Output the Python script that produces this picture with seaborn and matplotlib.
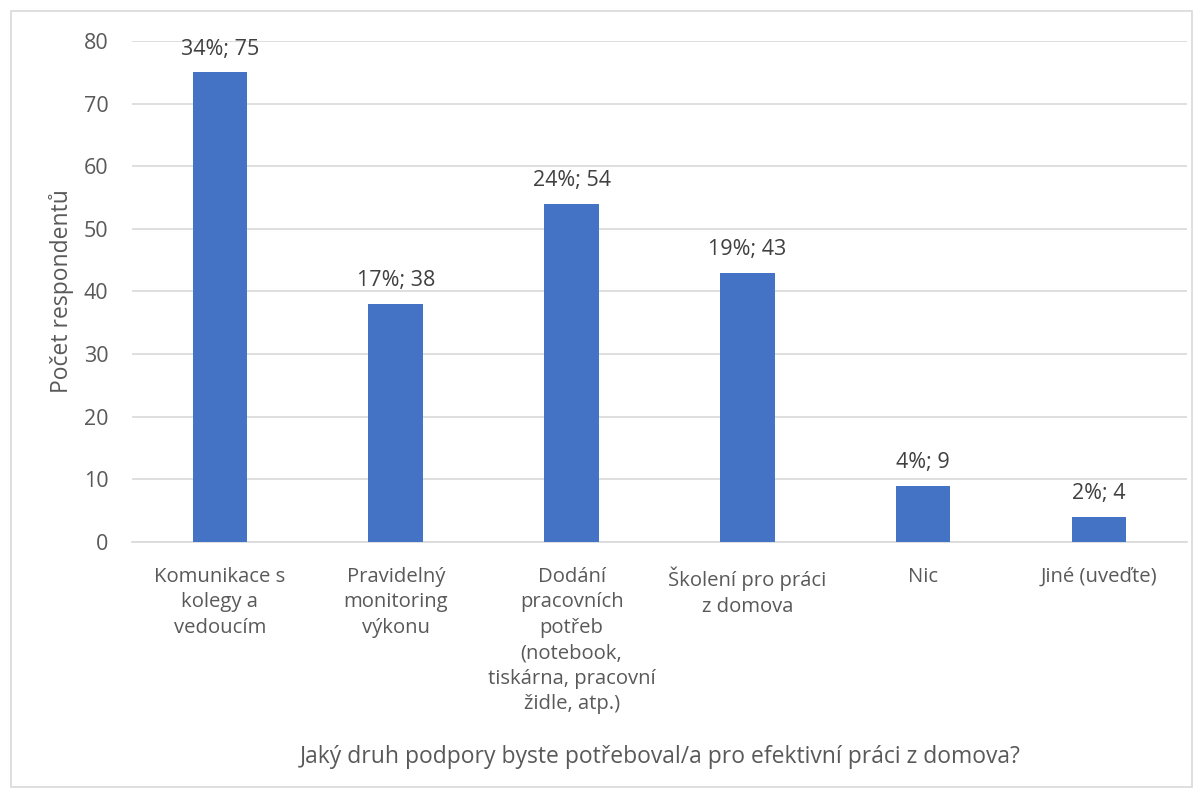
import matplotlib
matplotlib.use("Agg")
import matplotlib.pyplot as plt
import seaborn as sns
import pandas as pd
from matplotlib.patches import Rectangle

categories = [
    "Komunikace s\nkolegy a\nvedoucím",
    "Pravidelný\nmonitoring\nvýkonu",
    "Dodání\npracovních\npotřeb\n(notebook,\ntiskárna, pracovní\nžidle, atp.)",
    "Školení pro práci\nz domova",
    "Nic",
    "Jiné (uveďte)",
]
counts = [75, 38, 54, 43, 9, 4]
percents = ["34%", "17%", "24%", "19%", "4%", "2%"]
y_ticks = [0, 10, 20, 30, 40, 50, 60, 70, 80]

sns.set_theme(style="white")
plt.rcParams['font.family'] = ['Open Sans', 'DejaVu Sans']

text_color = "#595959"
fs = 14.6
fig = plt.figure(figsize=(12.03, 7.99), dpi=100)
ax = fig.add_axes([0.1097, 0.3217, 0.8770, 0.6270])

df = pd.DataFrame({"cat": categories, "count": counts})
sns.barplot(data=df, x="cat", y="count", color="#4472C4", width=0.31,
            saturation=1, ax=ax, zorder=3, edgecolor="#4472C4", linewidth=0)

ax.set_ylim(0, 80)
ax.set_xlim(-0.5, len(categories) - 0.5)
ax.set_yticks(y_ticks)
ax.yaxis.grid(True, color="#D9D9D9", linewidth=1.2, zorder=0)
for s in ["top", "right", "left"]:
    ax.spines[s].set_visible(False)
ax.spines["bottom"].set_color("#D9D9D9")
ax.spines["bottom"].set_linewidth(1.2)
ax.tick_params(axis="both", length=0, colors=text_color)
ax.tick_params(axis="x", labelsize=fs, pad=18)
ax.tick_params(axis="y", labelsize=15.5, pad=17)
for lbl in ax.get_xticklabels():
    lbl.set_linespacing(1.36)

for i, (c, p) in enumerate(zip(counts, percents)):
    ax.annotate(f"{p}; {c}", (i, c), xytext=(0, 9), textcoords="offset points",
                ha="center", va="bottom", fontsize=15.5, color="#404040")

ax.set_ylabel("Počet respondentů", fontsize=16.5, color=text_color)
ax.yaxis.label.set_va("center")
ax.yaxis.set_label_coords(-0.0664, 0.5)
ax.set_xlabel("")
fig.text(0.5486, 1 - 757 / 799, "Jaký druh podpory byste potřeboval/a pro efektivní práci z domova?",
         ha="center", va="center", fontsize=16.5, color=text_color)

fig.patches.append(Rectangle((11 / 1203, 1 - 787 / 799), (1192 - 11) / 1203, (787 - 11) / 799,
                             transform=fig.transFigure, fill=False, edgecolor="#D9D9D9",
                             linewidth=1.2))

fig.savefig("out.png", dpi=100)
